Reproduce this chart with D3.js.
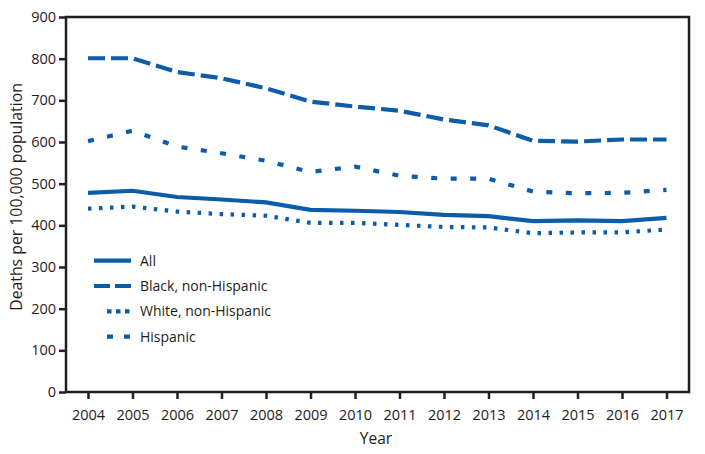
<!DOCTYPE html>
<html>
<head>
<meta charset="utf-8">
<script src="https://cdn.jsdelivr.net/npm/d3@7"></script>
<style>
  body { margin: 0; background: #fff; }
  text { font-family: "Open Sans", sans-serif; fill: #1f1b1c; }
</style>
</head>
<body>
<svg class="svg"></svg>
<script>
const years = [2004, 2005, 2006, 2007, 2008, 2009, 2010, 2011, 2012, 2013, 2014, 2015, 2016, 2017];
const allValues = [478, 483, 468, 462, 455, 437, 435, 432, 425, 422, 410, 412, 410, 418];
const blackValues = [801, 801, 768, 753, 729, 697, 685, 675, 654, 640, 603, 601, 606, 606];
const whiteValues = [440, 445, 433, 427, 423, 406, 406, 401, 396, 395, 381, 383, 383, 390];
const hispanicValues = [602, 627, 589, 573, 555, 528, 541, 519, 512, 512, 481, 477, 478, 485];
const yTicks = [0, 100, 200, 300, 400, 500, 600, 700, 800, 900];
const seriesNames = ['All', 'Black, non-Hispanic', 'White, non-Hispanic', 'Hispanic'];

const width = 705;
const height = 454;
const padding = { top: 17, right: 16, down: 62, left: 66 };
const blue = '#0b5ca9';

const series = [
    { name: seriesNames[0], values: allValues, dash: null, legendDash: null, legendX: 94 },
    { name: seriesNames[1], values: blackValues, dash: '17,6', legendDash: '16,5', legendX: 94 },
    { name: seriesNames[2], values: whiteValues, dash: '3.5,7.5', legendDash: '4.5,4.5', legendX: 107 },
    { name: seriesNames[3], values: hispanicValues, dash: '6,13.5', legendDash: '6,11', legendX: 107 }
];

const svg = d3.select('.svg')
    .attr('width', width)
    .attr('height', height);

/* X SCALE */
const xScale = d3.scalePoint()
    .domain(years)
    .range([88, 666.5]);
const xAxis = d3.axisBottom(xScale)
    .tickSizeInner(7)
    .tickSizeOuter(0)
    .tickPadding(11);

/* Y SCALE */
const yScale = d3.scaleLinear()
    .domain([0, 900])
    .range([height - padding.down, padding.top]);
const yAxis = d3.axisLeft(yScale)
    .tickValues(yTicks)
    .tickSizeInner(7)
    .tickSizeOuter(0)
    .tickPadding(3);

/* frame */
svg.append('rect')
    .attr('x', padding.left)
    .attr('y', padding.top)
    .attr('width', width - padding.right - padding.left)
    .attr('height', height - padding.down - padding.top)
    .attr('fill', 'none')
    .attr('stroke', '#231f20')
    .attr('stroke-width', 2.5);

/* in svg X SCALE */
const gx = svg.append('g')
    .attr('id', 'x-axis')
    .attr('transform', `translate(0, ${height - padding.down})`)
    .call(xAxis);
gx.select('.domain').remove();
gx.selectAll('line').attr('stroke', '#231f20').attr('stroke-width', 2.5);
gx.selectAll('text').style('font-size', '14.5px').attr('fill', '#1f1b1c');

/* in svg Y SCALE */
const gy = svg.append('g')
    .attr('id', 'y-axis')
    .attr('transform', `translate(${padding.left}, 0)`)
    .call(yAxis);
gy.select('.domain').remove();
gy.selectAll('line').attr('stroke', '#231f20').attr('stroke-width', 2.5);
gy.selectAll('text').style('font-size', '14.5px').attr('fill', '#1f1b1c');

/* axis titles */
svg.append('text')
    .attr('x', xScale(2010) + 21)
    .attr('y', 444)
    .attr('text-anchor', 'middle')
    .style('font-size', '15.5px')
    .text('Year');

svg.append('text')
    .attr('transform', 'translate(22, 197) rotate(-90)')
    .attr('text-anchor', 'middle')
    .style('font-size', '15.8px')
    .text('Deaths per 100,000 population');

/* lines */
const line = d3.line()
    .x((d, i) => xScale(years[i]))
    .y(d => yScale(d));

svg.selectAll('.series')
    .data(series).enter()
    .append('path')
    .attr('class', 'series')
    .attr('d', d => line(d.values))
    .attr('fill', 'none')
    .attr('stroke', blue)
    .attr('stroke-width', 4.2)
    .attr('stroke-dasharray', d => d.dash);

/* legend */
const legend = svg.append('g').attr('id', 'legend');
const rowY = (i) => 260.7 + i * 25.3;

legend.selectAll('line')
    .data(series).enter()
    .append('line')
    .attr('x1', d => d.legendX)
    .attr('x2', 131)
    .attr('y1', (d, i) => rowY(i))
    .attr('y2', (d, i) => rowY(i))
    .attr('stroke', blue)
    .attr('stroke-width', 4.2)
    .attr('stroke-dasharray', d => d.legendDash);

legend.selectAll('text')
    .data(series).enter()
    .append('text')
    .attr('x', 140)
    .attr('y', (d, i) => rowY(i) + 5)
    .style('font-size', '14px')
    .text(d => d.name);
</script>
</body>
</html>
